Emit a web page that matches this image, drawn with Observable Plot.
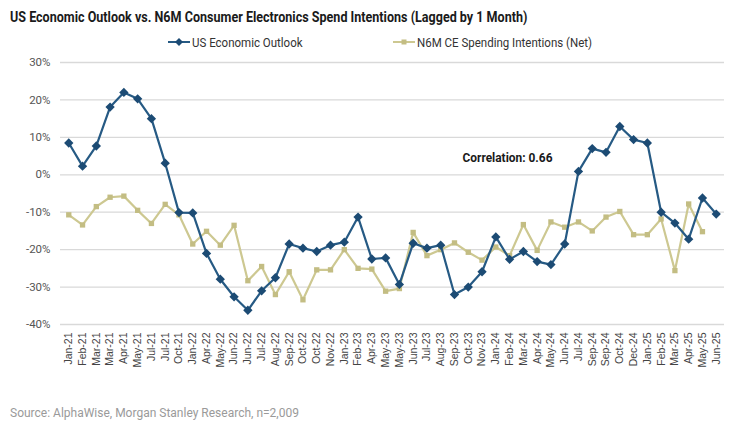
<!DOCTYPE html>
<html>
<head>
<meta charset="utf-8">
<script src="https://cdn.jsdelivr.net/npm/d3@7"></script>
<script src="https://cdn.jsdelivr.net/npm/@observablehq/plot@0.6"></script>
<style>
  body { margin: 0; background: #fff; width: 741px; height: 442px; overflow: hidden; font-family: Roboto, "Liberation Sans", sans-serif; }
  #title { height: 32px; box-sizing: border-box; padding: 9px 0 0 10px; line-height: 17px; font-size: 15.5px; font-weight: bold; color: #1a1a1a; white-space: nowrap; }
  #title span { display: inline-block; transform: scaleX(0.81); transform-origin: left center; }
  #legend { height: 20px; position: relative; font-size: 12.5px; color: #333; }
  .item { position: absolute; top: 2px; display: flex; align-items: center; white-space: nowrap; }
  .item svg { margin-right: 2px; }
  .item span { display: inline-block; transform: scaleX(0.92); transform-origin: left center; }
  #source { height: 40px; box-sizing: border-box; padding: 9px 0 0 10px; line-height: 14px; font-size: 12px; color: #9a9a9a; }
</style>
</head>
<body>
<div id="title"><span>US Economic Outlook vs. N6M Consumer Electronics Spend Intentions (Lagged by 1 Month)</span></div>
<div id="legend"></div>
<div id="chart"></div>
<div id="source">Source: AlphaWise, Morgan Stanley Research, n=2,009</div>
<script>
const labels = ["Jan-21","Feb-21","Mar-21","Mar-21","Apr-21","May-21","Jul-21","Jul-21","Oct-21","Jan-22","Apr-22","May-22","Jun-22","Jun-22","Jul-22","Aug-22","Sep-22","Oct-22","Oct-22","Nov-22","Jan-23","Feb-23","Apr-23","May-23","May-23","Jun-23","Jul-23","Aug-23","Sep-23","Oct-23","Nov-23","Jan-24","Feb-24","Mar-24","Apr-24","May-24","Jun-24","Jul-24","Sep-24","Sep-24","Oct-24","Dec-24","Jan-25","Feb-25","Mar-25","Apr-25","May-25","Jun-25"];

const outlook = [8.5,2.3,7.7,18.1,22,20.3,15,3.1,-10.1,-10.2,-21,-27.9,-32.6,-36.2,-31,-27.5,-18.5,-19.6,-20.5,-18.8,-18,-11.3,-22.5,-22.2,-29.3,-18.3,-19.6,-18.8,-32,-30,-25.9,-16.6,-22.6,-20.5,-23.2,-24,-18.5,0.9,7,6,12.9,9.4,8.5,-10,-12.9,-17.2,-6.2,-10.5];

const spend = [-10.7,-13.4,-8.5,-6,-5.7,-9.5,-13,-7.9,-10.7,-18.5,-15.1,-18.8,-13.5,-28.3,-24.5,-32,-25.9,-33.4,-25.4,-25.4,-20,-25,-25.2,-31.1,-30.4,-15.4,-21.6,-20,-18.2,-20.7,-22.8,-19.3,-21.6,-13.3,-20.2,-12.6,-14,-12.6,-15,-11.3,-9.8,-16,-16,-11.8,-25.6,-7.8,-15.2];

const yTicks = [-40,-30,-20,-10,0,10,20,30];

const seriesNames = ["US Economic Outlook", "N6M CE Spending Intentions (Net)"];
const lineColors = ["#265a84", "#cdc891"];
const dotColors = ["#1c4b74", "#c3bd83"];

const annotation = [{i: 28, v: 4.6, text: "Correlation: 0.66"}];

const outlookData = outlook.map((v, i) => ({i, v}));
const spendData = spend.map((v, i) => ({i, v}));

// Legend
const legend = document.getElementById("legend");
const legendX = [168, 393];
seriesNames.forEach((name, k) => {
  const d = document.createElement("div");
  d.className = "item";
  d.style.left = legendX[k] + "px";
  const shape = k === 0
    ? `<path d="M11,4 L15,8 L11,12 L7,8 Z" fill="${dotColors[k]}"/>`
    : `<rect x="8.5" y="5.5" width="5" height="5" fill="${dotColors[k]}"/>`;
  d.innerHTML = `<svg width="22" height="16"><line x1="0" x2="22" y1="8" y2="8" stroke="${lineColors[k]}" stroke-width="2"/>${shape}</svg><span>${name}</span>`;
  legend.appendChild(d);
});

const chart = Plot.plot({
  width: 741,
  height: 345,
  marginTop: 10,
  marginBottom: 73,
  marginLeft: 60,
  marginRight: 17,
  style: {fontFamily: "Roboto, 'Liberation Sans', sans-serif", background: "transparent"},
  x: {type: "point", domain: d3.range(labels.length), padding: 0.6},
  y: {domain: [-40, 30]},
  marks: [
    Plot.ruleY(yTicks, {stroke: "#d9d9d9", strokeWidth: 1.3}),
    Plot.axisY(yTicks, {tickSize: 0, tickPadding: 10, tickFormat: d => d + "%", fontSize: 11.5, fill: "#555", label: null}),
    Plot.axisX({tickSize: 0, tickPadding: 8, tickRotate: -90, tickFormat: i => labels[i], fontSize: 10.5, fill: "#444", label: null, fontFamily: "'Liberation Sans', Arial, sans-serif"}),
    Plot.line(spendData, {x: "i", y: "v", stroke: lineColors[1], strokeWidth: 2.2}),
    Plot.dot(spendData, {x: "i", y: "v", symbol: "square", r: 3, fill: dotColors[1]}),
    Plot.line(outlookData, {x: "i", y: "v", stroke: lineColors[0], strokeWidth: 2.2}),
    Plot.dot(outlookData, {x: "i", y: "v", symbol: "diamond2", r: 4.2, fill: dotColors[0]}),
    Plot.text(annotation, {x: "i", y: "v", text: "text", textAnchor: "start", dx: 8, fontSize: 12.5, fontWeight: "bold", fill: "#1a1a1a"})
  ]
});
// condense the annotation text like the reference's narrow bold font
chart.querySelectorAll("text").forEach(t => {
  if (t.textContent === annotation[0].text) {
    t.setAttribute("textLength", "90");
    t.setAttribute("lengthAdjust", "spacingAndGlyphs");
  }
});
document.getElementById("chart").appendChild(chart);
</script>
</body>
</html>
